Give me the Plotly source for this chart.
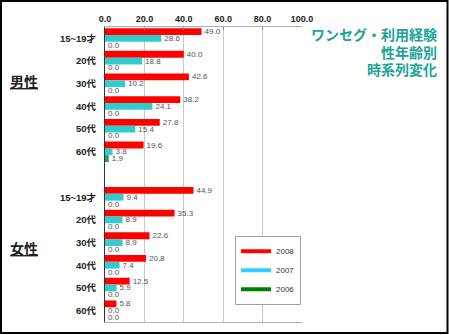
import plotly.graph_objects as go

# Age groups shown for each gender
age_labels = ["15~19才", "20代", "30代", "40代", "50代", "60代"]

# One-seg usage experience (%) by year
men_2008 = [49.0, 40.0, 42.6, 38.2, 27.8, 19.6]
men_2007 = [28.6, 18.8, 10.2, 24.1, 15.4, 3.8]
men_2006 = [0.0, 0.0, 0.0, 0.0, 0.0, 1.9]
women_2008 = [44.9, 35.3, 22.6, 20.8, 12.5, 5.8]
women_2007 = [9.4, 8.9, 8.9, 7.4, 5.9, 0.0]
women_2006 = [0.0, 0.0, 0.0, 0.0, 0.0, 0.0]

years = ["2008", "2007", "2006"]
bar_colors = ["#ff0000", "#33cccc", "#2e9a5a"]
legend_colors = ["#ff0000", "#33ccff", "#008000"]
x_ticks = [0, 20, 40, 60, 80, 100]

# Row slots: men on 0..5, a blank slot at 6, women on 7..12
slots = list(range(6)) + list(range(7, 13))
tick_text = age_labels + age_labels

series = [men_2008 + women_2008, men_2007 + women_2007, men_2006 + women_2006]

FONT = "Liberation Sans, Arial, Noto Sans CJK JP, sans-serif"
JP_FONT = "Noto Sans CJK JP, sans-serif"

fig = go.Figure()
for name, vals, col in zip(years, series, bar_colors):
    fig.add_trace(go.Bar(
        x=vals, y=slots, orientation="h", name=name,
        marker=dict(color=col, line=dict(width=0)),
        text=[f"{v:.1f}" for v in vals], textposition="outside",
        textfont=dict(size=8, color="#555555", family=FONT),
        constraintext="none", cliponaxis=False, showlegend=False,
    ))

# Legend entries drawn as line swatches
for name, col in zip(years, legend_colors):
    fig.add_trace(go.Scatter(
        x=[None], y=[None], mode="lines", name=name,
        line=dict(color=col, width=4),
    ))

fig.update_layout(
    width=449, height=335,
    margin=dict(l=105, r=147, t=27, b=13),
    paper_bgcolor="white", plot_bgcolor="white",
    barmode="group", bargap=0.1, bargroupgap=0,
    font=dict(family=FONT, color="#222222"),
    legend=dict(
        x=0.66, y=0.292, xanchor="left", yanchor="top",
        bgcolor="white", bordercolor="#a0a0a0", borderwidth=1,
        font=dict(size=8, color="#333333", family=FONT),
        tracegroupgap=0, itemwidth=30,
    ),
)

fig.update_xaxes(
    side="top", range=[0, 100], tickvals=x_ticks,
    ticktext=[f"{t:.1f}" for t in x_ticks],
    tickfont=dict(size=9, color="#222222", family=FONT, weight="bold"),
    showgrid=True, gridcolor="#c8c8c8", gridwidth=1,
    showline=True, linecolor="#b0b0b0", linewidth=1, mirror=True,
    ticks="inside", ticklen=3, tickcolor="#888888",
    zeroline=False, fixedrange=True,
)
fig.update_yaxes(
    range=[12.5, -0.5], tickvals=slots, ticktext=tick_text,
    tickfont=dict(size=9.5, color="#222222", family=FONT, weight="bold"),
    showgrid=False, zeroline=False,
    showline=True, linecolor="#333333", linewidth=1,
    ticks="", ticklabelstandoff=6, fixedrange=True,
)

# Gender labels
for text, yp in [("男性", 0.818), ("女性", 0.252)]:
    fig.add_annotation(
        text=f"<u>{text}</u>", xref="paper", yref="paper",
        x=-0.411, y=yp, xanchor="center", yanchor="middle", showarrow=False,
        font=dict(size=14, color="#222222", family=JP_FONT, weight="bold"),
    )

# Title block on the right
for text, yp in [("ワンセグ・利用経験", 0.976), ("性年齢別", 0.915), ("時系列変化", 0.858)]:
    fig.add_annotation(
        text=text, xref="paper", yref="paper",
        x=1.695, y=yp, xanchor="right", yanchor="middle", showarrow=False,
        font=dict(size=14, color="#1aa396", family=JP_FONT, weight="bold"),
    )

# Outer frame
fig.add_shape(
    type="rect", xref="paper", yref="paper",
    x0=(1 - 105) / 197, x1=(447.5 - 105) / 197,
    y0=1 - (333 - 27) / 295, y1=1 - (1 - 27) / 295,
    line=dict(color="#000000", width=2), layer="above",
)

fig.write_html("out.html")
